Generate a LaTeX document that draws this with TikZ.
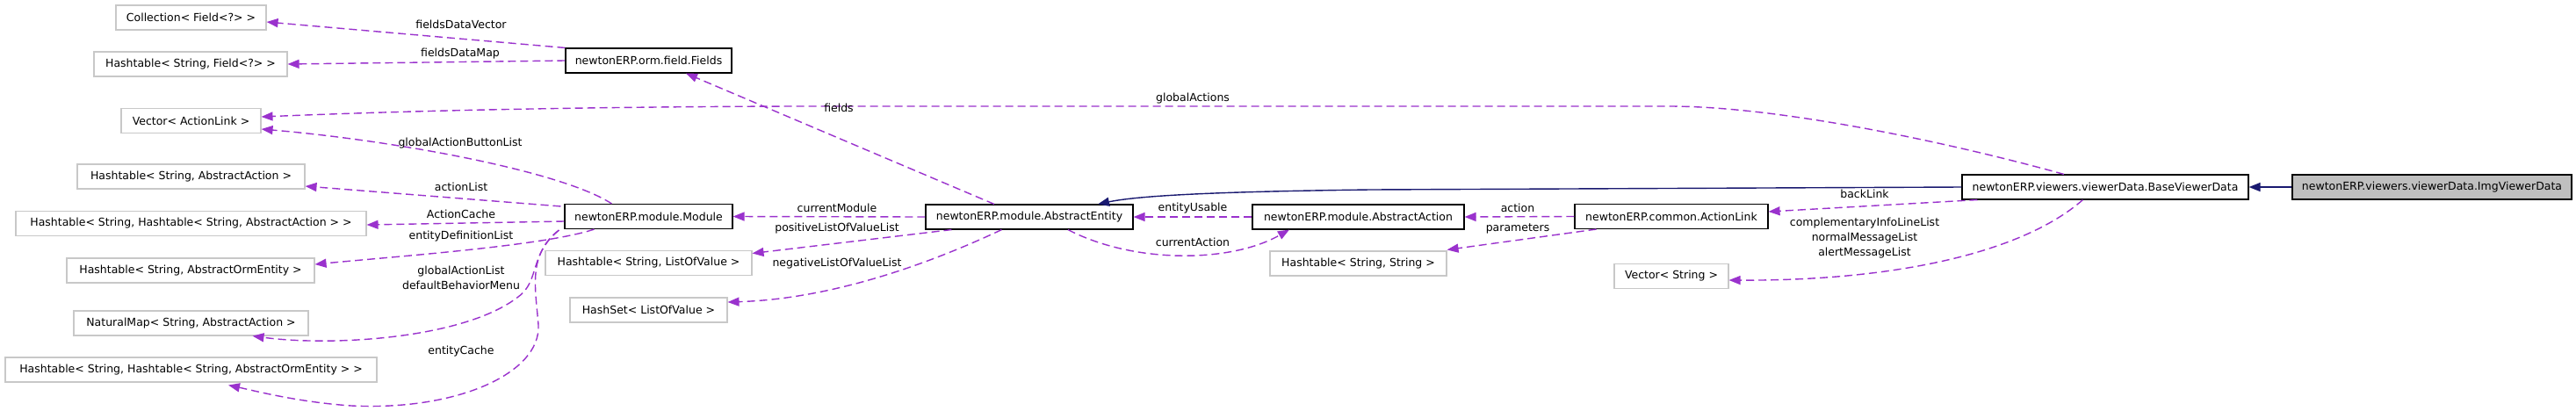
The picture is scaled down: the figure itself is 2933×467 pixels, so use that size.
\documentclass[tikz,border=0pt]{standalone}
\usepackage{fontspec}
\setmainfont{DejaVu Sans}
\usetikzlibrary{arrows.meta,calc}
\definecolor{depc}{HTML}{9A32CD}
\definecolor{navyc}{HTML}{191970}
\definecolor{greyb}{HTML}{BFBFBF}
\definecolor{greyl}{HTML}{C8C8C8}
\begin{document}
\begin{tikzpicture}[x=1pt,y=-1pt,
  cls/.style={draw=black, fill=white, line width=1.1pt, minimum height=28pt, inner xsep=2pt, inner ysep=0pt, font=\fontsize{12.5}{15}\selectfont, text=black},
  ext/.style={cls, draw=greyl, line width=1.1pt},
  cur/.style={cls, fill=greyb},
  dep/.style={draw=depc, dash pattern=on 9pt off 5pt, line width=1.4pt, -{Triangle[length=13pt,width=10pt,fill=depc]}},
  inh/.style={draw=navyc, line width=1.4pt, -{Triangle[length=13pt,width=10pt,fill=navyc]}},
  lbl/.style={font=\fontsize{12.5}{17}\selectfont, inner sep=0pt, text=black, align=center}
]
\useasboundingbox (0,0) rectangle (2933,467);
\fill[white] (0,0) rectangle (2933,467);

% left column
\node[ext, minimum width=171] (coll) at (217.5,20) {Collection< Field<?> >};
\node[ext, minimum width=220] (htf) at (217,73) {Hashtable< String, Field<?> >};
\node[ext, minimum width=159] (vecal) at (217.5,137.5) {Vector< ActionLink >};
\node[ext, minimum width=259] (htaa) at (217.5,201) {Hashtable< String, AbstractAction >};
\node[ext, minimum width=399] (hthtaa) at (217.5,254.5) {Hashtable< String, Hashtable< String, AbstractAction > >};
\node[ext, minimum width=282] (htaoe) at (217,308) {Hashtable< String, AbstractOrmEntity >};
\node[ext, minimum width=267] (natmap) at (217.5,368) {NaturalMap< String, AbstractAction >};
\node[ext, minimum width=423] (hthtaoe) at (217.5,421) {Hashtable< String, Hashtable< String, AbstractOrmEntity > >};

% second column
\node[cls, minimum width=189] (fields) at (738.5,69) {newtonERP.orm.field.Fields};
\node[cls, minimum width=191] (module) at (738.5,246.5) {newtonERP.module.Module};
\node[ext, minimum width=235] (htlov) at (738.5,299.5) {Hashtable< String, ListOfValue >};
\node[ext, minimum width=179] (hslov) at (738.5,353) {HashSet< ListOfValue >};

% middle
\node[cls, minimum width=236] (ae) at (1172,247) {newtonERP.module.AbstractEntity};
\node[cls, minimum width=241] (aa) at (1546.5,247) {newtonERP.module.AbstractAction};
\node[ext, minimum width=201] (hts) at (1546.5,300) {Hashtable< String, String >};
\node[cls, minimum width=220] (al) at (1903,246.5) {newtonERP.common.ActionLink};
\node[ext, minimum width=130] (vecs) at (1903,314.5) {Vector< String >};
\node[cls, minimum width=326] (bvd) at (2397,213) {newtonERP.viewers.viewerData.BaseViewerData};
\node[cur, minimum width=318] (ivd) at (2769,213) {newtonERP.viewers.viewerData.ImgViewerData};

% inheritance
\draw[inh] (ivd.west) -- (bvd.east);
\draw[inh] (bvd.west) -- (1560,216) .. controls (1400,218) and (1300,222) .. ($(ae.north)+(78,0)$);

% Fields members
\draw[dep] (fields.north west) -- ($(coll.east)+(0,5)$);
\draw[dep] (fields.west) -- (htf.east);

% globalActions
\draw[dep] ($(bvd.north)+(-47,0)$) .. controls (2230,165) and (2030,121) .. (1900,121) -- (900,121) .. controls (600,122) and (420,128) .. ($(vecal.east)+(0,-4.5)$);

% Module members
\draw[dep] ($(module.north west)+(54,0)$) .. controls (640,195) and (450,160) .. ($(vecal.east)+(0,9.5)$);
\draw[dep] ($(module.north west)+(-4,3)$) -- ($(htaa.east)+(0,11)$);
\draw[dep] ($(module.west)+(0,5.5)$) -- ($(hthtaa.east)+(0,1.5)$);
\draw[dep] ($(module.south west)+(34,0)$) .. controls (620,280) and (450,292) .. ($(htaoe.east)+(0,-7)$);
\draw[dep] ($(module.south west)+(-6,1)$) .. controls (602,290) and (615,320) .. (590,338) .. controls (530,385) and (380,395) .. ($(natmap.south)+(70,0)$);
\draw[dep] ($(module.south west)+(-6,1)$) .. controls (600,290) and (610,330) .. (613,370) .. controls (616,425) and (520,468) .. (400,462) .. controls (340,458) and (290,445) .. ($(hthtaoe.south)+(42.5,3)$);

% AbstractEntity members
\draw[dep] (ae.west) -- (module.east);
\draw[dep] ($(ae.south west)+(30,0)$) -- ($(htlov.east)+(0,-11)$);
\draw[dep] ($(ae.south west)+(87,0)$) .. controls (1080,290) and (960,340) .. ($(hslov.east)+(0,-9)$);
\draw[dep] ($(ae.north)+(-40,0)$) -- ($(fields.south)+(42.5,0)$);
\draw[dep] ($(ae.south)+(44,0)$) .. controls (1290,300) and (1400,300) .. ($(aa.south)+(-78.5,0)$);

% AbstractAction / ActionLink
\draw[dep] (aa.west) -- (ae.east);
\draw[dep] (al.west) -- (aa.east);
\draw[dep] ($(al.south west)+(25,0)$) -- ($(hts.north east)+(0,-1)$);

% BaseViewerData members
\draw[dep] ($(bvd.south west)+(18,0)$) -- ($(al.east)+(0,-5.5)$);
\draw[dep] ($(bvd.south west)+(138,0)$) .. controls (2300,290) and (2150,320) .. ($(vecs.east)+(0,4.5)$);

% labels
\node[lbl] (l1) at (525,28) {fieldsDataVector};
\node[lbl] (l2) at (524,61) {fieldsDataMap};
\node[lbl] (l3) at (524,163) {globalActionButtonList};
\node[lbl] (l4) at (525,213) {actionList};
\node[lbl] (l5) at (525,244) {ActionCache};
\node[lbl] (l6) at (525,269) {entityDefinitionList};
\node[lbl] (l7) at (525,316.5) {globalActionList\\defaultBehaviorMenu};
\node[lbl] (l8) at (525,400) {entityCache};
\node[lbl] (l9) at (955,123) {fields};
\node[lbl] (l10) at (1358,112) {globalActions};
\node[lbl] (l11) at (953,237) {currentModule};
\node[lbl] (l12) at (953,260) {positiveListOfValueList};
\node[lbl] (l13) at (953,300) {negativeListOfValueList};
\node[lbl] (l14) at (1358,237) {entityUsable};
\node[lbl] (l15) at (1358,276) {currentAction};
\node[lbl] (l16) at (1728,237) {action};
\node[lbl] (l17) at (1728,260) {parameters};
\node[lbl] (l18) at (2123,221) {backLink};
\node[lbl] (l19) at (2123,271.5) {complementaryInfoLineList\\normalMessageList\\alertMessageList};
\end{tikzpicture}
\end{document}
